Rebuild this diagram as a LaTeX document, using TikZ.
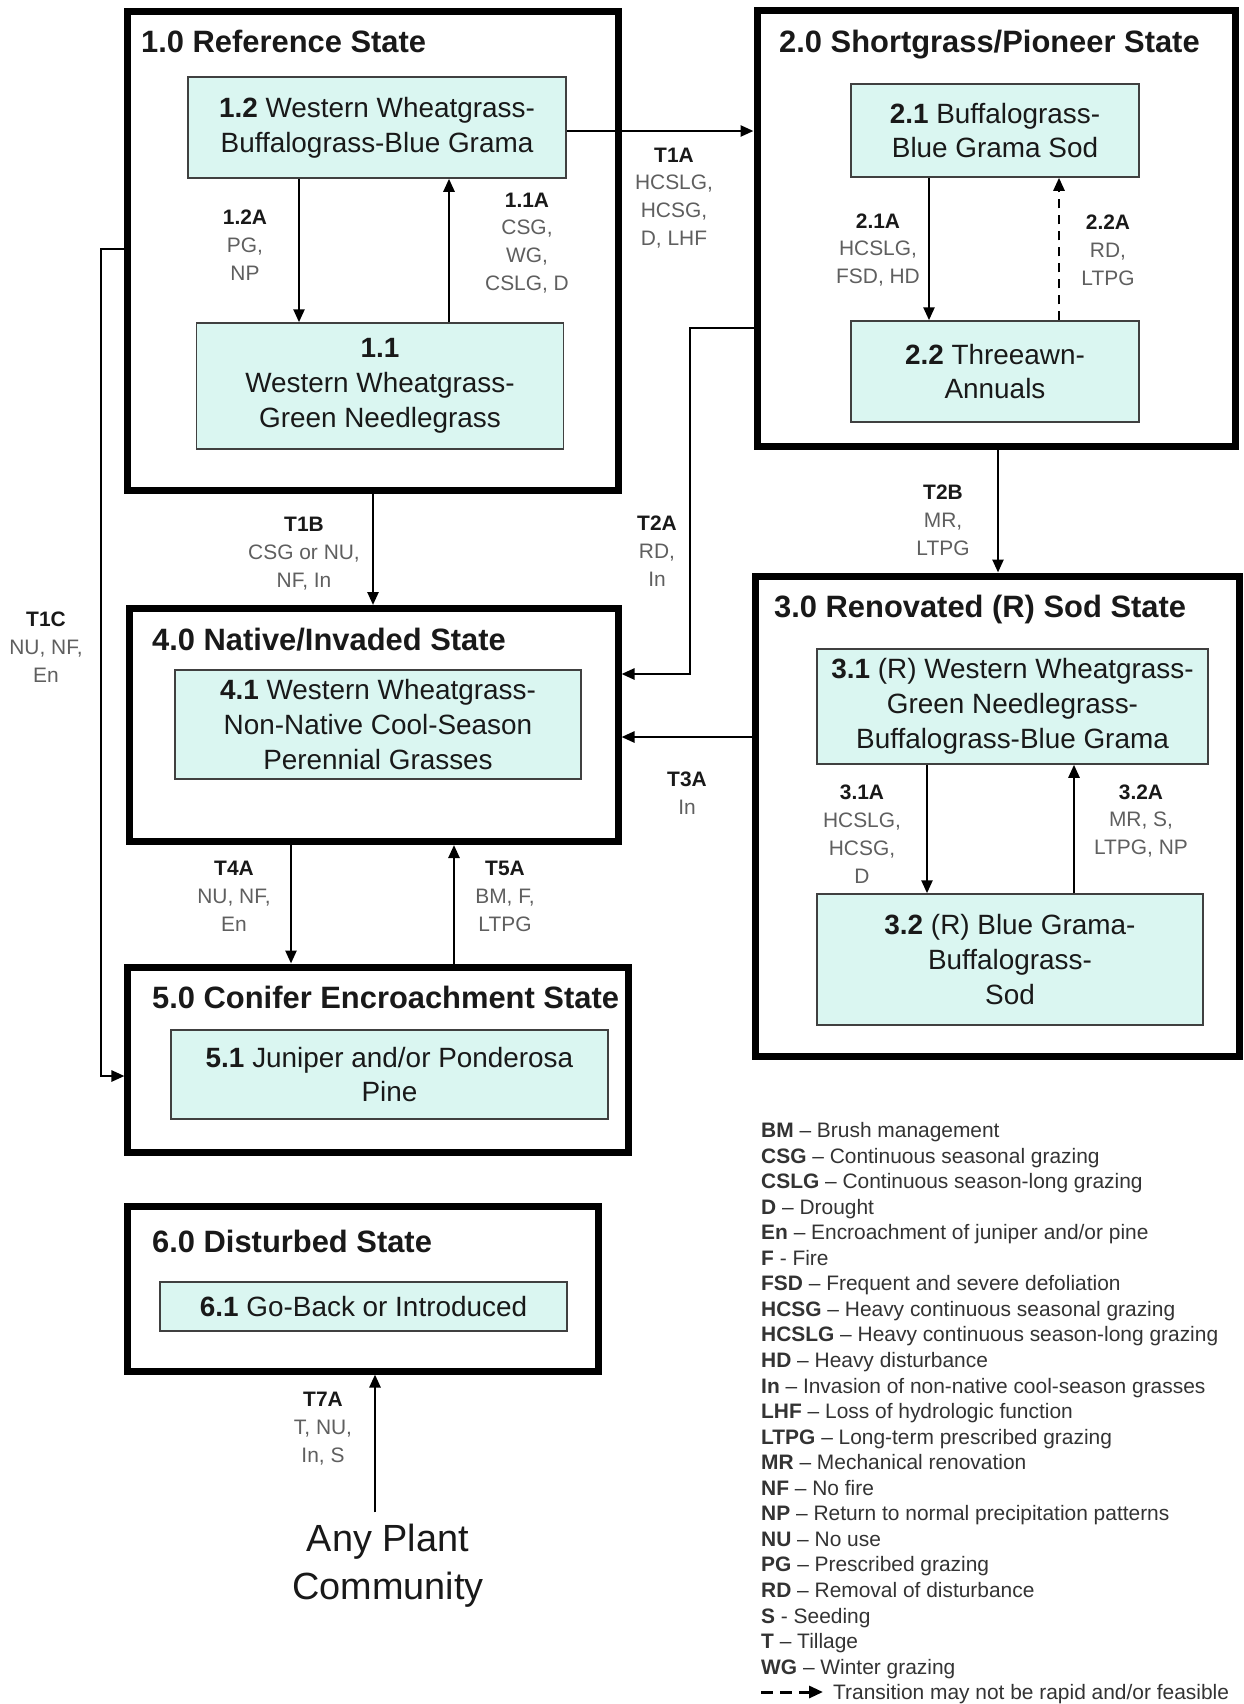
\documentclass[tikz,border=0pt]{standalone}
\usepackage{fontspec}
\setmainfont{Liberation Sans}
\usetikzlibrary{arrows.meta}
\definecolor{cellfill}{RGB}{218,246,241}
\definecolor{labgray}{RGB}{95,95,95}
\definecolor{txtdark}{RGB}{25,25,25}
\newcommand\labhead[1]{\textbf{\color{txtdark}#1}}
\begin{document}
\begin{tikzpicture}[x=1bp,y=-1bp,
  outer/.style={draw=black, line width=7bp, inner sep=0pt},
  cell/.style={draw=black!75, line width=1.5bp, fill=cellfill, inner sep=0pt, align=center, text=txtdark, font=\fontsize{28}{35}\selectfont},
  ttl/.style={anchor=base west, inner sep=0pt, font=\fontsize{31}{36}\selectfont\bfseries, text=txtdark},
  lab/.style={align=center, inner sep=0pt, text=labgray, font=\fontsize{21}{28}\selectfont},
  arr/.style={line width=2.5bp, -{Triangle[length=13bp,width=11bp]}},
  darr/.style={arr, dash pattern=on 9bp off 7bp},
  lgd/.style={anchor=base west, inner sep=0pt, font=\fontsize{21}{25}\selectfont, text=black!80},
]
\fill[white] (0,0) rectangle (1243,1704);
\useasboundingbox (0,0) rectangle (1243,1704);

% state boxes
\node[outer, minimum width=490bp, minimum height=479bp] (S1) at (373,251) {};
\node[outer, minimum width=478bp, minimum height=435bp] (S2) at (996,228.5) {};
\node[outer, minimum width=484bp, minimum height=480bp] (S3) at (997,816) {};
\node[outer, minimum width=488bp, minimum height=233bp] (S4) at (374,725) {};
\node[outer, minimum width=500bp, minimum height=185bp] (S5) at (378,1059.5) {};
\node[outer, minimum width=470bp, minimum height=165bp] (S6) at (363,1288.5) {};

% titles
\node[ttl] (T1) at (141,52) {1.0 Reference State};
\node[ttl] (T2) at (779,52) {2.0 Shortgrass/Pioneer State};
\node[ttl] (T3) at (774,617) {3.0 Renovated (R) Sod State};
\node[ttl] (T4) at (152,650) {4.0 Native/Invaded State};
\node[ttl] (T5) at (152,1008) {5.0 Conifer Encroachment State};
\node[ttl] (T6) at (152,1252) {6.0 Disturbed State};

% community boxes
\node[cell, minimum width=378bp, minimum height=101bp] (B12) at (377,127.5) {\textbf{1.2} Western Wheatgrass-\\Buffalograss-Blue Grama};
\node[cell, minimum width=367bp, minimum height=126bp] (B11) at (380,386) {\textbf{1.1}\\Western Wheatgrass-\\Green Needlegrass};
\node[cell, minimum width=288bp, minimum height=93bp] (B21) at (995,130.5) {\textbf{2.1} Buffalograss-\\Blue Grama Sod};
\node[cell, minimum width=288bp, minimum height=101bp] (B22) at (995,371.5) {\textbf{2.2} Threeawn-\\Annuals};
\node[cell, minimum width=391bp, minimum height=115bp] (B31) at (1012.5,706.5) {\textbf{3.1} (R) Western Wheatgrass-\\Green Needlegrass-\\Buffalograss-Blue Grama};
\node[cell, minimum width=386bp, minimum height=131bp] (B32) at (1010,959.5) {\textbf{3.2} (R) Blue Grama-\\Buffalograss-\\Sod};
\node[cell, minimum width=406bp, minimum height=109bp] (B41) at (378,724.5) {\textbf{4.1} Western Wheatgrass-\\Non-Native Cool-Season\\Perennial Grasses};
\node[cell, minimum width=437bp, minimum height=89bp] (B51) at (389.5,1074.5) {\textbf{5.1} Juniper and/or Ponderosa\\Pine};
\node[cell, minimum width=407bp, minimum height=49bp] (B61) at (363.5,1306.5) {\textbf{6.1} Go-Back or Introduced};

% any plant community
\node[align=center, inner sep=0pt, text=txtdark, font=\fontsize{38}{48}\selectfont] (APC) at (388,1566) {Any Plant\\Community};

% within-state arrows
\draw[arr] (299,0 |- B12.south) -- (299,0 |- B11.north);
\draw[arr] (449,0 |- B11.north) -- (449,0 |- B12.south);
\draw[arr] (929,0 |- B21.south) -- (929,0 |- B22.north);
\draw[darr] (1059,0 |- B22.north) -- (1059,0 |- B21.south);
\draw[arr] (927,0 |- B31.south) -- (927,0 |- B32.north);
\draw[arr] (1074,0 |- B32.north) -- (1074,0 |- B31.south);

% transitions
\draw[arr] (B12.east |- 0,131) -- (S2.west |- 0,131);
\draw[arr] (S1.west |- 0,249) -- (101,249) -- (101,1076) -- (S5.west |- 0,1076);
\draw[arr] (373,0 |- S1.south) -- (373,0 |- S4.north);
\draw[arr] (S2.west |- 0,328) -- (690,328) -- (690,674) -- (S4.east |- 0,674);
\draw[arr] (998,0 |- S2.south) -- (998,0 |- S3.north);
\draw[arr] (S3.west |- 0,737) -- (S4.east |- 0,737);
\draw[arr] (291,0 |- S4.south) -- (291,0 |- S5.north);
\draw[arr] (454,0 |- S5.north) -- (454,0 |- S4.south);
\draw[arr] ([yshift=12bp]APC.north -| 375,0) -- (375,0 |- S6.south);

% labels
\node[lab] (L12A) at (245,245) {\labhead{1.2A}\\PG,\\NP};
\node[lab] (L11A) at (527,243) {\labhead{1.1A}\\CSG,\\WG,\\CSLG, D};
\node[lab] (LT1A) at (674,198) {\labhead{T1A}\\HCSLG,\\HCSG,\\D, LHF};
\node[lab] (L21A) at (878,250) {\labhead{2.1A}\\HCSLG,\\FSD, HD};
\node[lab] (L22A) at (1108,250) {\labhead{2.2A}\\RD,\\LTPG};
\node[lab] (LT2A) at (657,551) {\labhead{T2A}\\RD,\\In};
\node[lab] (LT2B) at (943,520) {\labhead{T2B}\\MR,\\LTPG};
\node[lab] (LT1B) at (304,554) {\labhead{T1B}\\CSG or NU,\\NF, In};
\node[lab] (LT1C) at (46,647) {\labhead{T1C}\\NU, NF,\\En};
\node[lab] (LT3A) at (687,793) {\labhead{T3A}\\In};
\node[lab] (L31A) at (862,834) {\labhead{3.1A}\\HCSLG,\\HCSG,\\D};
\node[lab] (L32A) at (1141,821) {\labhead{3.2A}\\MR, S,\\LTPG, NP};
\node[lab] (LT4A) at (234,896) {\labhead{T4A}\\NU, NF,\\En};
\node[lab] (LT5A) at (505,896) {\labhead{T5A}\\BM, F,\\LTPG};
\node[lab] (LT7A) at (323,1429) {\labhead{T7A}\\T, NU,\\In, S};

% legend
\node[lgd] (G1) at (761,1137.5) {\textbf{BM} -- Brush management};
\node[lgd] (G2) at (761,1163.1) {\textbf{CSG} -- Continuous seasonal grazing};
\node[lgd] (G3) at (761,1188.6) {\textbf{CSLG} -- Continuous season-long grazing};
\node[lgd] (G4) at (761,1214.2) {\textbf{D} -- Drought};
\node[lgd] (G5) at (761,1239.7) {\textbf{En} -- Encroachment of juniper and/or pine};
\node[lgd] (G6) at (761,1265.3) {\textbf{F} - Fire};
\node[lgd] (G7) at (761,1290.8) {\textbf{FSD} -- Frequent and severe defoliation};
\node[lgd] (G8) at (761,1316.4) {\textbf{HCSG} -- Heavy continuous seasonal grazing};
\node[lgd] (G9) at (761,1341.9) {\textbf{HCSLG} -- Heavy continuous season-long grazing};
\node[lgd] (G10) at (761,1367.5) {\textbf{HD} -- Heavy disturbance};
\node[lgd] (G11) at (761,1393.0) {\textbf{In} -- Invasion of non-native cool-season grasses};
\node[lgd] (G12) at (761,1418.6) {\textbf{LHF} -- Loss of hydrologic function};
\node[lgd] (G13) at (761,1444.1) {\textbf{LTPG} -- Long-term prescribed grazing};
\node[lgd] (G14) at (761,1469.7) {\textbf{MR} -- Mechanical renovation};
\node[lgd] (G15) at (761,1495.2) {\textbf{NF} -- No fire};
\node[lgd] (G16) at (761,1520.8) {\textbf{NP} -- Return to normal precipitation patterns};
\node[lgd] (G17) at (761,1546.3) {\textbf{NU} -- No use};
\node[lgd] (G18) at (761,1571.9) {\textbf{PG} -- Prescribed grazing};
\node[lgd] (G19) at (761,1597.4) {\textbf{RD} -- Removal of disturbance};
\node[lgd] (G20) at (761,1623.0) {\textbf{S} - Seeding};
\node[lgd] (G21) at (761,1648.5) {\textbf{T} -- Tillage};
\node[lgd] (G22) at (761,1674.1) {\textbf{WG} -- Winter grazing};
\coordinate (DA) at (761,1692);
\coordinate (DB) at (823,1692);
\draw[line width=3bp, dash pattern=on 12bp off 7bp, -{Triangle[length=14bp,width=12bp]}] (DA) -- (DB);
\node[lgd] (G23) at (833,1699.6) {Transition may not be rapid and/or feasible};
\end{tikzpicture}
\end{document}
